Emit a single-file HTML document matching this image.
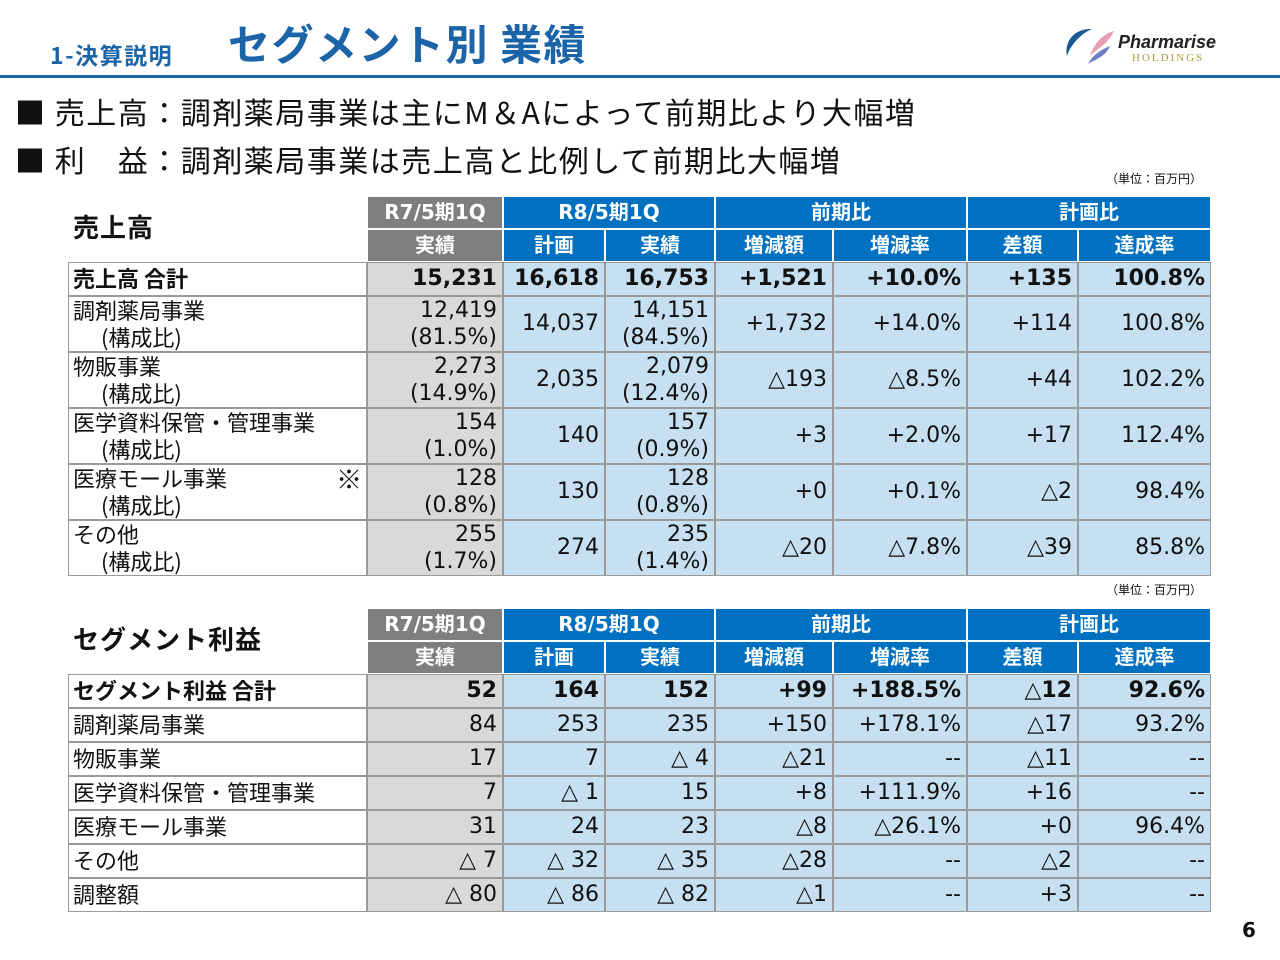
<!DOCTYPE html>
<html><head><meta charset="utf-8">
<style>
body{margin:0;width:1280px;height:960px;background:#fff;position:relative;overflow:hidden;font-family:"DejaVu Sans","Noto Sans CJK JP",sans-serif;}
.a{position:absolute;box-sizing:border-box;}
.c{position:absolute;box-sizing:border-box;font-size:22px;color:#111;line-height:27px;}
.h{position:absolute;box-sizing:border-box;color:#fff;font-weight:bold;font-size:20px;text-align:center;font-family:"DejaVu Sans","Noto Sans CJK JP",sans-serif;}
.lab{font-family:"Noto Sans CJK JP",sans-serif;}
</style></head><body>
<div class="a" style="left:50px;top:37px;font-size:23px;letter-spacing:1.5px;font-weight:bold;color:#1b64a8;font-family:'Noto Sans CJK JP',sans-serif;">1-決算説明</div>
<div class="a" style="left:228px;top:13px;font-size:42px;letter-spacing:1.5px;font-weight:bold;color:#1b64a8;font-family:'Noto Sans CJK JP',sans-serif;line-height:60px;white-space:nowrap;">セグメント別 業績</div>
<div class="a" style="left:1062px;top:26px;width:170px;height:40px;">
<svg width="60" height="40" style="position:absolute;left:0;top:0"><path d="M30 3 C12 2 2 16 5 30 C8 20 18 8 30 3Z" fill="#1b5a96"/><path d="M52 5 C40 8 32 18 28 30 C36 22 46 18 52 5Z" fill="#e8a0b0"/><path d="M48 20 C38 24 30 30 26 38 C36 32 44 30 48 20Z" fill="#6d7fc0"/></svg>
<div class="a" style="left:56px;top:6px;font-size:18px;font-weight:bold;font-style:italic;color:#222;font-family:'Liberation Sans',sans-serif;">Pharmarise</div>
<div class="a" style="left:70px;top:26px;font-size:11px;letter-spacing:2px;color:#b09a40;font-family:'Liberation Serif',serif;">HOLDINGS</div>
</div>
<div class="a" style="left:0;top:75px;width:1280px;height:3px;background:#1b64a8;"></div>
<div class="a lab" style="left:15px;top:91px;font-size:30px;letter-spacing:1.5px;color:#111;line-height:40px;white-space:nowrap;">■ 売上高：調剤薬局事業は主にM＆Aによって前期比より大幅増</div>
<div class="a lab" style="left:15px;top:139px;font-size:30px;letter-spacing:1.5px;color:#111;line-height:40px;white-space:nowrap;">■ 利　益：調剤薬局事業は売上高と比例して前期比大幅増</div>
<div class="a lab" style="left:1106px;top:170px;font-size:12px;color:#111;">（単位：百万円）</div>
<div class="a lab" style="left:1106px;top:581px;font-size:12px;color:#111;">（単位：百万円）</div>
<div class="a lab" style="left:73px;top:208px;font-size:26px;letter-spacing:1px;font-weight:bold;color:#111;">売上高</div>
<div class="a lab" style="left:73px;top:620px;font-size:26px;letter-spacing:1px;font-weight:bold;color:#111;">セグメント利益</div>
<div class="a" style="left:1242px;top:918px;font-size:20px;font-weight:bold;color:#111;">6</div>
<div id="root"></div>
<script>
const colX=[68,367,503,605,715,833,967,1078,1211];
const salesLabels=["調剤薬局事業","物販事業","医学資料保管・管理事業","医療モール事業","その他"];
const salesTotal=["15,231","16,618","16,753","+1,521","+10.0%","+135","100.8%"];
const salesRows=[
["12,419","14,037","14,151","+1,732","+14.0%","+114","100.8%"],
["2,273","2,035","2,079","△193","△8.5%","+44","102.2%"],
["154","140","157","+3","+2.0%","+17","112.4%"],
["128","130","128","+0","+0.1%","△2","98.4%"],
["255","274","235","△20","△7.8%","△39","85.8%"]];
const salesPrevShare=["(81.5%)","(14.9%)","(1.0%)","(0.8%)","(1.7%)"];
const salesCurShare=["(84.5%)","(12.4%)","(0.9%)","(0.8%)","(1.4%)"];
const profitLabels=["調剤薬局事業","物販事業","医学資料保管・管理事業","医療モール事業","その他","調整額"];
const profitTotal=["52","164","152","+99","+188.5%","△12","92.6%"];
const profitRows=[
["84","253","235","+150","+178.1%","△17","93.2%"],
["17","7","△ 4","△21","--","△11","--"],
["7","△ 1","15","+8","+111.9%","+16","--"],
["31","24","23","△8","△26.1%","+0","96.4%"],
["△ 7","△ 32","△ 35","△28","--","△2","--"],
["△ 80","△ 86","△ 82","△1","--","+3","--"]];
const root=document.getElementById('root');
function box(cls,x,y,w,h,txt,st){const d=document.createElement('div');d.className=cls;d.style.left=x+'px';d.style.top=y+'px';d.style.width=w+'px';d.style.height=h+'px';if(txt!=null)d.innerHTML=txt;if(st)d.style.cssText+=st;root.appendChild(d);return d;}
function header(top,prefix){
 const G='#7f7f7f',B='#0070c0',bd='border:1px solid #fff;';
 let e;
 e=box('h',colX[1],top,colX[2]-colX[1],33,'R7/5期1Q','background:'+G+';line-height:31px;'+bd);
 
 
 const groups=[[2,4,'R8/5期1Q'],[4,6,'前期比'],[6,8,'計画比']];
 groups.forEach(g=>{e=box('h',colX[g[0]],top,colX[g[1]]-colX[g[0]],33,g[2],'background:'+B+';line-height:31px;'+bd);
 
 });
 const subs=['実績','計画','実績','増減額','増減率','差額','達成率'];
 subs.forEach((s,i)=>{e=box('h',colX[i+1],top+33,colX[i+2]-colX[i+1],33,s,'background:'+(i==0?G:B)+';line-height:31px;'+bd);
 
 });
}
function cellBg(i){return i==0?'#d9d9d9':'#c6dff1';}
const bd='border:1px solid #9a9a9a;';
function totalRow(top,label,vals,prefix){
 let e=box('c lab',colX[0],top,colX[1]-colX[0],34,label,'background:#fff;font-weight:bold;padding-left:4px;line-height:31px;'+bd);
 
 
 vals.forEach((v,i)=>{e=box('c',colX[i+1],top,colX[i+2]-colX[i+1],34,v,'background:'+cellBg(i)+';font-weight:bold;text-align:right;padding-right:5px;line-height:31px;'+bd);
 
 });
}
header(196,'sales');
totalRow(262,'売上高 合計',salesTotal,'sales');
salesLabels.forEach((l,r)=>{
 const top=296+r*56;
 let e=box('c lab',colX[0],top,colX[1]-colX[0],56,l+(r==3?'<span style="position:absolute;right:4px;top:0;font-size:26px">※</span>':'')+'<br><span style="padding-left:28px">(構成比)</span>','background:#fff;padding-left:4px;'+bd);
 
 
 salesRows[r].forEach((v,i)=>{
  let txt=v,st='background:'+cellBg(i)+';text-align:right;padding-right:5px;';
  if(i==0) txt=v+'<br>'+salesPrevShare[r];
  else if(i==2) txt=v+'<br>'+salesCurShare[r];
  else st+='line-height:54px;';
  e=box('c',colX[i+1],top,colX[i+2]-colX[i+1],56,txt,st+bd);
  
  
 });
});
header(608,'profit');
totalRow(674,'セグメント利益 合計',profitTotal,'profit');
profitLabels.forEach((l,r)=>{
 const top=708+r*34;
 let e=box('c lab',colX[0],top,colX[1]-colX[0],34,l,'background:#fff;padding-left:4px;line-height:31px;'+bd);
 
 
 profitRows[r].forEach((v,i)=>{
  e=box('c',colX[i+1],top,colX[i+2]-colX[i+1],34,v,'background:'+cellBg(i)+';text-align:right;padding-right:5px;line-height:31px;'+bd);
  
  
 });
});
</script>
</body></html>
